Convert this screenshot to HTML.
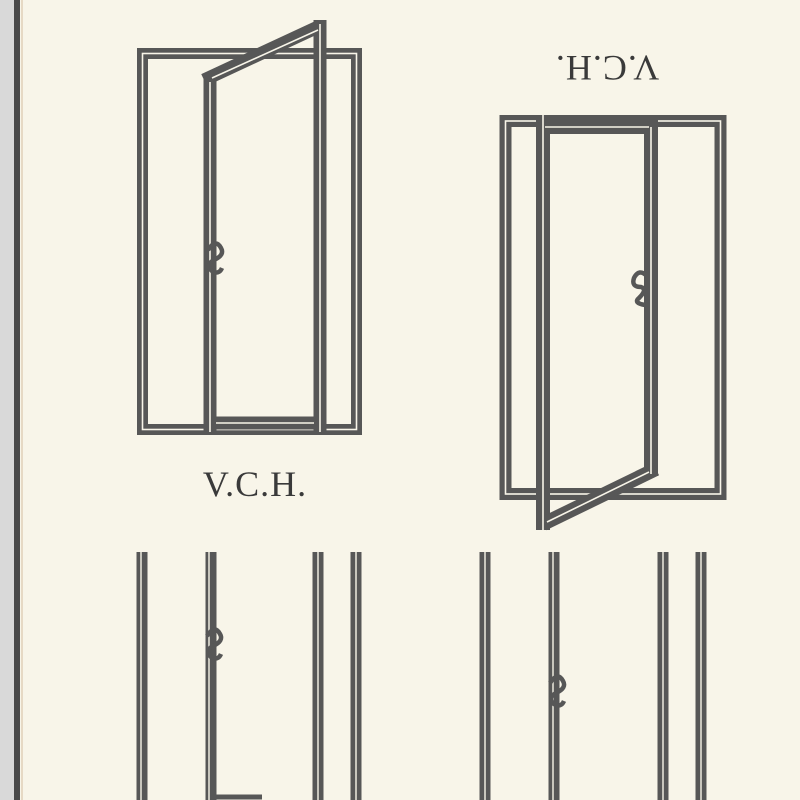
<!DOCTYPE html>
<html><head><meta charset="utf-8"><style>
html,body{margin:0;padding:0;width:800px;height:800px;overflow:hidden;background:#f8f5e9}
svg{display:block}
</style></head><body>
<svg width="800" height="800" viewBox="0 0 800 800" xmlns="http://www.w3.org/2000/svg">
<rect width="800" height="800" fill="#f8f5e9"/>
<rect x="0" y="0" width="14" height="800" fill="#d9d9d9"/>
<rect x="14" y="0" width="6" height="800" fill="#4a4a4a"/>
<rect x="21" y="0" width="2" height="800" fill="#e6d9c4"/>
<g stroke="#575757" stroke-linecap="butt" fill="none">
<!-- top-left frame -->
<rect x="142.5" y="53.5" width="214" height="376" stroke-width="11"/>
<rect x="142.5" y="53.5" width="214" height="376" stroke="#f8f5e9" stroke-width="1.6"/>
<!-- top-left door leaf -->
<g stroke-width="13">
<line x1="210" y1="75" x2="210" y2="432"/>
<line x1="320" y1="20" x2="320" y2="432"/>
<line x1="204" y1="80" x2="320" y2="26"/>
<line x1="210" y1="423" x2="320" y2="423"/>
</g>
<g stroke="#f8f5e9" stroke-width="1.6">
<line x1="210" y1="82" x2="210" y2="432"/>
<line x1="320" y1="24" x2="320" y2="432"/>
<line x1="212" y1="78" x2="318" y2="30"/>
<line x1="216" y1="423" x2="314" y2="423"/>
</g>
<!-- top-right frame -->
<rect x="505.5" y="121" width="215" height="373" stroke-width="12"/>
<rect x="505.5" y="121" width="215" height="373" stroke="#f8f5e9" stroke-width="1.6"/>
<!-- top-right door leaf -->
<g stroke-width="14">
<line x1="543" y1="115" x2="543" y2="530"/>
<line x1="651" y1="120" x2="651" y2="476"/>
<line x1="543" y1="127" x2="651" y2="127"/>
<line x1="543" y1="524" x2="656" y2="469"/>
</g>
<g stroke="#f8f5e9" stroke-width="1.6">
<line x1="543" y1="115" x2="543" y2="530"/>
<line x1="651" y1="127" x2="651" y2="474"/>
<line x1="545" y1="127" x2="649" y2="127"/>
<line x1="547" y1="522" x2="649" y2="472"/>
</g>
<!-- bottom bars -->
<g stroke-width="11">
<line x1="142" y1="552" x2="142" y2="800"/>
<line x1="211" y1="552" x2="211" y2="800"/>
<line x1="318" y1="552" x2="318" y2="800"/>
<line x1="356" y1="552" x2="356" y2="800"/>
<line x1="485" y1="552" x2="485" y2="800"/>
<line x1="554" y1="552" x2="554" y2="800"/>
<line x1="663" y1="552" x2="663" y2="800"/>
<line x1="701" y1="552" x2="701" y2="800"/>
</g>
<g stroke="#f8f5e9" stroke-width="1.4">
<line x1="141" y1="552" x2="141" y2="800"/>
<line x1="209" y1="552" x2="209" y2="800"/>
<line x1="318" y1="552" x2="318" y2="800"/>
<line x1="356" y1="552" x2="356" y2="800"/>
<line x1="485" y1="552" x2="485" y2="800"/>
<line x1="553" y1="552" x2="553" y2="800"/>
<line x1="663" y1="552" x2="663" y2="800"/>
<line x1="701" y1="552" x2="701" y2="800"/>
</g>
<line x1="216" y1="797" x2="262" y2="797" stroke-width="5"/>
<!-- handles -->
<g stroke-width="4.5">
<path d="M208 250 q8 -12 13 -2 q4 7 -7 12 q-9 5 -2 11 q7 4 10 -3"/>
<path d="M647 276 q-8 -8 -13 2 q-3 9 7 9 q7 2 -2 11 q-6 5 6 7"/>
<path d="M207 636 q8 -12 13 -2 q4 7 -7 12 q-9 5 -2 11 q7 4 10 -3"/>
<path d="M550 683 q8 -12 13 -2 q4 7 -7 12 q-9 5 -2 11 q7 4 10 -3"/>
</g>
</g>
<text x="255" y="496" text-anchor="middle" font-family="Liberation Serif, serif" font-size="36" fill="#3a3a3a" letter-spacing="1">V.C.H.</text>
<text x="0" y="0" transform="translate(607,56) rotate(180)" text-anchor="middle" font-family="Liberation Serif, serif" font-size="36" fill="#3a3a3a" letter-spacing="1">V.C.H.</text>
</svg>
</body></html>
